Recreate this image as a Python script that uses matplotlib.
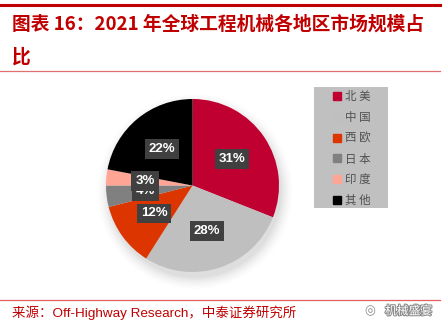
import matplotlib
matplotlib.use("Agg")
import matplotlib.pyplot as plt
from matplotlib.lines import Line2D
from matplotlib.patches import Rectangle, Circle
from matplotlib import patheffects as pe

plt.rcParams['font.family'] = ['Noto Sans CJK SC', 'DejaVu Sans']

categories = ["北美", "中国", "西欧", "日本", "印度", "其他"]
shares = [31, 28, 12, 4, 3, 22]
colors = ["#C00030", "#BFBFBF", "#DD3500", "#808080", "#FFA595", "#000000"]
title_line1 = "图表 16：2021 年全球工程机械各地区市场规模占"
title_line2 = "比"
source_text = "来源：Off-Highway Research，中泰证券研究所"
watermark = "机械盛宴"

W, H = 443, 326
fig = plt.figure(figsize=(W / 100, H / 100), dpi=100)
fig.patch.set_facecolor("white")

def fx(px):
    return px / W

def fy(py):
    return 1 - py / H

red = "#C00000"
# header / footer rules
fig.add_artist(Line2D([0, fx(440)], [fy(5), fy(5)], color=red, lw=2.2))
fig.add_artist(Line2D([0, fx(440)], [fy(71), fy(71)], color="#E07070", lw=0.9))
fig.add_artist(Line2D([0, fx(440)], [fy(300), fy(300)], color="#E06060", lw=0.9))

fig.text(fx(12), fy(24), title_line1, color=red, fontsize=13.5, fontweight="bold",
         va="center", ha="left")
fig.text(fx(12), fy(57), title_line2, color=red, fontsize=13.5, fontweight="bold",
         va="center", ha="left")

fig.text(fx(12), fy(313), source_text, color=red, fontsize=9.7, va="center", ha="left",
         family=["Liberation Sans", "Noto Sans CJK SC"])
fig.text(fx(385), fy(311), watermark, color="white", fontsize=8.5, va="center", ha="left",
         path_effects=[pe.withStroke(linewidth=1.5, foreground="#8a8a8a")])
fig.text(fx(364), fy(311), "◎", color="#8a8a8a", fontsize=9, va="center", ha="left",
         family=["DejaVu Sans"])

# pie
cx, cy, r = 192.5, 185.5, 86.5
ax = fig.add_axes([fx(cx - r), fy(cy + r), 2 * r / W, 2 * r / H])

# soft shadow under the pie
for i, a in enumerate([0.03, 0.026, 0.022, 0.018, 0.014, 0.01]):
    ax.add_patch(Circle((0.03, -0.07), 1.0 + 0.025 * i, facecolor="black",
                        alpha=a, lw=0, zorder=0, clip_on=False))

wedges, texts, autotexts = ax.pie(
    shares, colors=colors, startangle=90, counterclock=False, radius=1,
    autopct=lambda p: f"{p:.0f}%", pctdistance=0.55,
    textprops=dict(color="white", fontweight="bold", fontsize=9.5,
                   family=["Liberation Sans"]),
    wedgeprops=dict(linewidth=0, zorder=2),
)
ax.set_xlim(-1, 1)
ax.set_ylim(-1, 1)
ax.set_aspect("equal")
ax.axis("off")
for t in autotexts:
    t.set_zorder(5)
    t.set_bbox(dict(facecolor="#404040", edgecolor="none", boxstyle="square,pad=0.3"))

# legend panel
fig.add_artist(Rectangle((fx(314), fy(208)), fx(388) - fx(314), fy(87) - fy(208),
                         transform=fig.transFigure, facecolor="#C0C0C0",
                         edgecolor="none", zorder=1))
handles = [Line2D([], [], marker="s", ls="", color=c, markersize=5.5) for c in colors]
leg = fig.legend(handles, [" ".join(c) for c in categories], loc="upper left",
                 bbox_to_anchor=(fx(334), fy(90)), frameon=False,
                 handlelength=0.6, handletextpad=0.35, labelspacing=0.68,
                 borderpad=0.0, borderaxespad=0, fontsize=8.3,
                 labelcolor="#505050")
leg.set_zorder(3)

fig.savefig("out.png", dpi=100, facecolor="white")
